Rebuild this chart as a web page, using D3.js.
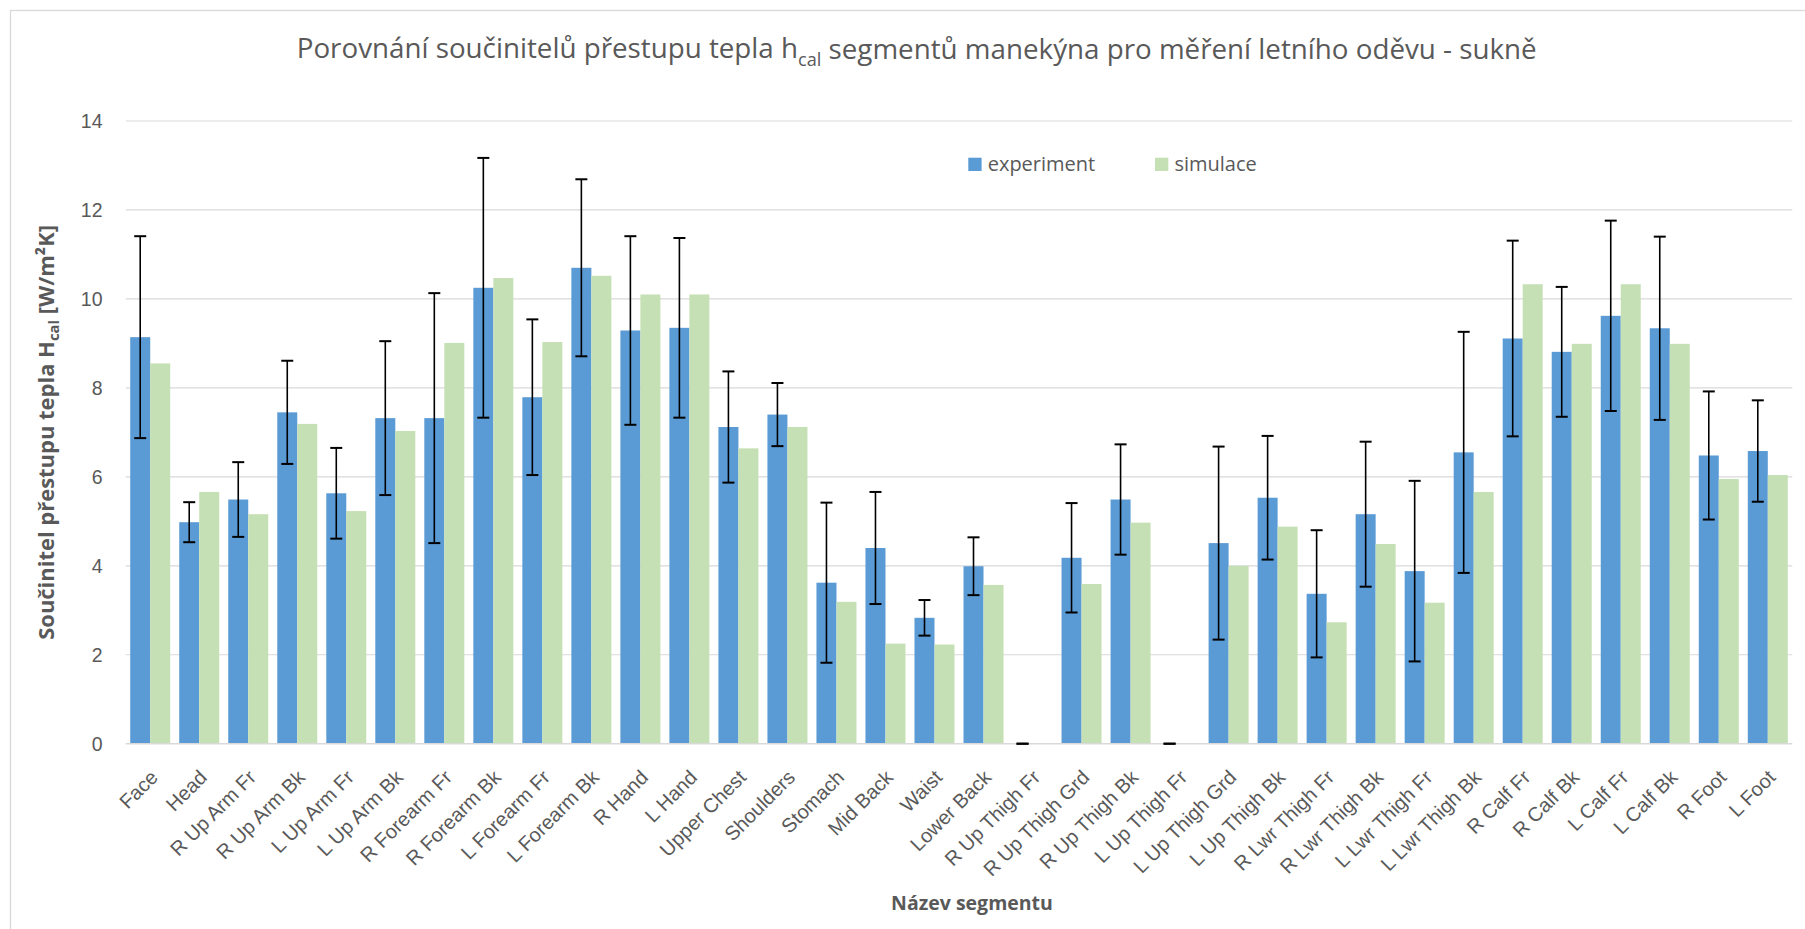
<!DOCTYPE html>
<html>
<head>
<meta charset="utf-8">
<script src="https://cdn.jsdelivr.net/npm/d3@7"></script>
<style>
  html, body { margin: 0; padding: 0; background: #ffffff; }
  svg { display: block; font-family: "Open Sans", "Noto Sans", sans-serif; }
</style>
</head>
<body>
<svg id="chart" width="1805" height="929"></svg>
<script>
const categories = ["Face","Head","R Up Arm Fr","R Up Arm Bk","L Up Arm Fr","L Up Arm Bk","R Forearm Fr","R Forearm Bk","L Forearm Fr","L Forearm Bk","R Hand","L Hand","Upper Chest","Shoulders","Stomach","Mid Back","Waist","Lower Back","R Up Thigh Fr","R Up Thigh Grd","R Up Thigh Bk","L Up Thigh Fr","L Up Thigh Grd","L Up Thigh Bk","R Lwr Thigh Fr","R Lwr Thigh Bk","L Lwr Thigh Fr","L Lwr Thigh Bk","R Calf Fr","R Calf Bk","L Calf Fr","L Calf Bk","R Foot","L Foot"];
const experiment = [9.14,4.98,5.49,7.45,5.63,7.32,7.32,10.25,7.79,10.70,9.29,9.35,7.12,7.40,3.62,4.40,2.83,3.99,0,4.18,5.49,0,4.51,5.53,3.37,5.16,3.88,6.55,9.11,8.81,9.62,9.34,6.48,6.58];
const experimentError = [2.27,0.45,0.84,1.16,1.02,1.73,2.81,2.92,1.75,1.99,2.12,2.02,1.25,0.71,1.80,1.26,0.40,0.65,0,1.23,1.24,0,2.17,1.39,1.43,1.63,2.03,2.71,2.20,1.46,2.14,2.06,1.44,1.14];
const simulace = [8.55,5.66,5.16,7.19,5.23,7.03,9.01,10.47,9.03,10.52,10.10,10.10,6.64,7.12,3.19,2.25,2.23,3.57,0,3.59,4.97,0,4.00,4.88,2.73,4.49,3.17,5.66,10.33,8.99,10.33,8.99,5.95,6.04];
const seriesNames = ["experiment","simulace"];
const seriesColors = ["#5B9BD5","#C5E0B4"];
const yTicks = [0,2,4,6,8,10,12,14];

const svg = d3.select("#chart");
const W = 1805, H = 929;
const plot = {left: 125.7, right: 1792.3, top: 121, bottom: 743.7};
const textColor = "#595959";

svg.append("rect").attr("x",0).attr("y",0).attr("width",W).attr("height",H).attr("fill","#fff");
svg.append("rect").attr("x",10.5).attr("y",10.5).attr("width",W+20).attr("height",H+20)
  .attr("fill","none").attr("stroke","#d9d9d9").attr("stroke-width",1.3);

const x0 = d3.scaleBand().domain(categories).range([plot.left, plot.right])
  .paddingInner(0.184).paddingOuter(0.092);
const x1 = d3.scaleBand().domain(seriesNames).range([0, x0.bandwidth()]);
const y = d3.scaleLinear().domain([0,14]).range([plot.bottom, plot.top]);
const color = d3.scaleOrdinal().domain(seriesNames).range(seriesColors);

// gridlines
svg.append("g").selectAll("line").data(yTicks.filter(d => d > 0)).join("line")
  .attr("x1", plot.left).attr("x2", plot.right)
  .attr("y1", d => y(d)).attr("y2", d => y(d))
  .attr("stroke", "#d9d9d9").attr("stroke-width", 1.2);

// y axis labels
const yAxis = d3.axisLeft(y).tickValues(yTicks).tickSize(0).tickPadding(0).tickFormat(d3.format("d"));
const yg = svg.append("g").attr("transform", `translate(102.5,0)`).call(yAxis);
yg.select(".domain").remove();
yg.selectAll("text").attr("fill", textColor).style("font-size","19.5px")
  .attr("dy","0.35em").attr("x",0);

// bars
const rows = categories.map((c,i) => ({cat: c, values: [
  {s: "experiment", v: experiment[i], e: experimentError[i]},
  {s: "simulace", v: simulace[i], e: null}
]}));
const groups = svg.append("g").selectAll("g").data(rows).join("g")
  .attr("transform", d => `translate(${x0(d.cat)},0)`);
groups.selectAll("rect").data(d => d.values).join("rect")
  .attr("x", d => x1(d.s)).attr("width", x1.bandwidth())
  .attr("y", d => y(d.v)).attr("height", d => y(0) - y(d.v))
  .attr("fill", d => color(d.s));

// axis baseline
svg.append("line").attr("x1", plot.left).attr("x2", plot.right)
  .attr("y1", y(0)).attr("y2", y(0)).attr("stroke", "#d9d9d9").attr("stroke-width", 1.6);

// error bars
const eg = svg.append("g").attr("stroke", "#000").attr("stroke-width", 1.6);
rows.forEach(r => {
  const d = r.values[0];
  const cx = x0(r.cat) + x1(d.s) + x1.bandwidth()/2;
  const yt = y(d.v + d.e), yb = y(d.v - d.e);
  eg.append("line").attr("x1", cx).attr("x2", cx).attr("y1", yt).attr("y2", yb);
  eg.append("line").attr("x1", cx-6).attr("x2", cx+6).attr("y1", yt).attr("y2", yt).attr("stroke-width", 2);
  eg.append("line").attr("x1", cx-6).attr("x2", cx+6).attr("y1", yb).attr("y2", yb).attr("stroke-width", 2);
});

// x axis labels
const xAxis = d3.axisBottom(x0).tickSize(0).tickPadding(0);
const xg = svg.append("g").attr("transform", `translate(0,${plot.bottom})`).call(xAxis);
xg.select(".domain").remove();
xg.selectAll("text")
  .attr("fill", textColor).style("font-size","20px")
  .attr("text-anchor","end")
  .attr("y",0).attr("dy","0.35em")
  .attr("transform","translate(4,30) rotate(-45)");

// title
const title = svg.append("text").attr("x", 916.7).attr("y", 58.3)
  .attr("text-anchor","middle").attr("fill", textColor).style("font-size","26px");
title.append("tspan").text("Porovnání součinitelů přestupu tepla h");
title.append("tspan").text("cal").style("font-size","17px").attr("dy", 7);
title.append("tspan").text(" segmentů manekýna pro měření letního oděvu - sukně").attr("dy", -7);

// y axis title
const yt = svg.append("text").attr("transform", "translate(53.5,432.4) rotate(-90)")
  .attr("text-anchor","middle").attr("fill", textColor).style("font-size","20px").style("font-weight","bold");
yt.append("tspan").text("Součinitel přestupu tepla H");
yt.append("tspan").text("cal").style("font-size","13.5px").attr("dy", 5);
yt.append("tspan").text(" [W/m²K]").attr("dy", -5);

// x axis title
svg.append("text").attr("x", 972).attr("y", 910).attr("text-anchor","middle")
  .attr("fill", textColor).style("font-size","19.5px").style("font-weight","bold")
  .text("Název segmentu");

// fit texts to measured widths in the reference
function fitWidth(sel, target) {
  const w = sel.node().getComputedTextLength();
  if (w > 0) {
    const f = target / w;
    const base = parseFloat(sel.style("font-size"));
    sel.style("font-size", (base*f) + "px");
    sel.selectAll("tspan").each(function(){
      const t = d3.select(this);
      if (this.style.fontSize) {
        t.style("font-size", (parseFloat(this.style.fontSize)*f) + "px");
        const dy = t.attr("dy");
        if (dy) t.attr("dy", parseFloat(dy)*f);
      }
    });
  }
}
fitWidth(title, 1240);
fitWidth(yt, 415);

// legend
const legendPos = [968.3, 1155];
const lg = svg.append("g");
seriesNames.forEach((s, i) => {
  lg.append("rect").attr("x", legendPos[i]).attr("y", 157.7).attr("width", 13.3).attr("height", 13.3).attr("fill", color(s));
  lg.append("text").attr("x", legendPos[i] + 19.4).attr("y", 170.5)
    .attr("fill", textColor).style("font-size","20px").text(s);
});
</script>
</body>
</html>
